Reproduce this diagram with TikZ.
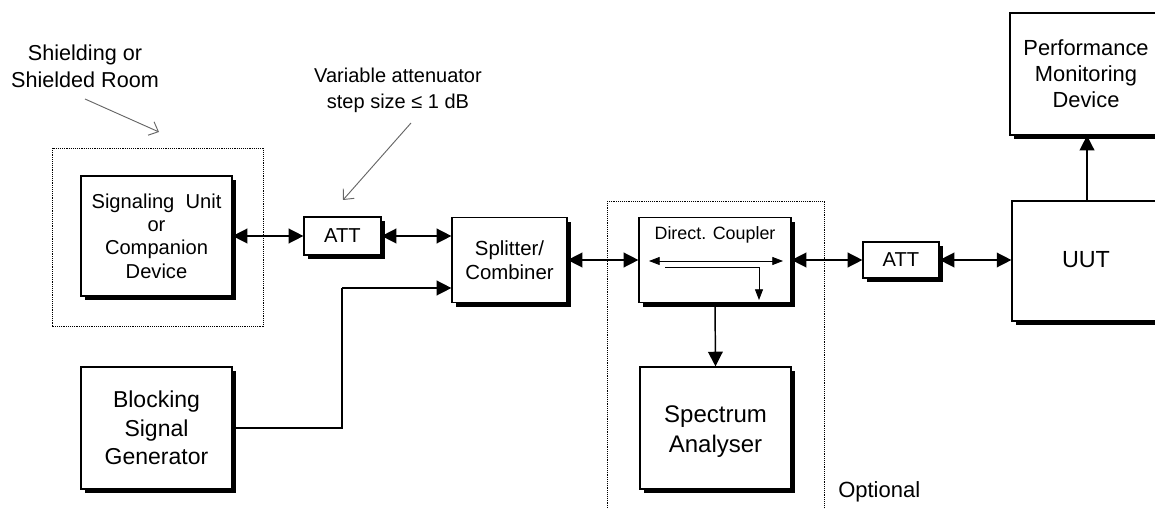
\documentclass[tikz,border=0pt]{standalone}
\usepackage{fontspec}
\setmainfont{Liberation Sans}
\usetikzlibrary{arrows.meta,shadows}
\newcommand{\fpx}[2]{\fontsize{#1}{#2}\selectfont}
\begin{document}
\begin{tikzpicture}[x=0.75pt,y=-0.75pt,
  sz/.style 2 args={minimum width=#1*0.75pt, minimum height=#2*0.75pt},
  box/.style={draw, fill=white, line width=0.9pt, inner sep=0pt, align=center,
    drop shadow={shadow xshift=3.2pt, shadow yshift=-3.2pt, fill=black, opacity=1},
    font=\fpx{15.1}{17.5}},
  bus/.style={line width=1.1pt, {Triangle[length=11pt,width=11pt]}-{Triangle[length=11pt,width=11pt]}},
  one/.style={line width=1.1pt, -{Triangle[length=11pt,width=11pt]}},
  wire/.style={line width=0.9pt},
  thin/.style={line width=0.6pt},
  note/.style={draw=black!60, line width=0.7pt, -{Straight Barb[length=6pt,width=11pt]}},
  encl/.style={line width=0.6pt, dash pattern=on 0.7pt off 0.7pt},
  lbl/.style={align=center, inner sep=0pt, font=\fpx{16.2}{20}}
]
\useasboundingbox (0,0) rectangle (1155,509);

% enclosures
\draw[encl] (52,148) rectangle (263,326);
\draw[encl] (607,201) -- (824,201) -- (824,515) (607,201) -- (607,515);

% boxes
\node[box, sz={151}{120}] (sig) at (156.5,236) {Signaling\ \ Unit\\or\\Companion\\Device};
\node[box, sz={77}{38}] (att1) at (342.5,236) {ATT};
\node[box, sz={115}{85}, font=\fpx{15.3}{18}] (split) at (509.5,260) {Splitter/\\Combiner};
\node[box, sz={152}{85}] (coup) at (715,260) {};
\node[inner sep=0pt, font=\fpx{13.4}{15}] (coupt) at (715,235) {Direct. Coupler};
\node[box, sz={151}{122}] (spec) at (715.5,428) {};
\node[inner sep=0pt, align=center, font=\fpx{18}{22.5}] (spect) at (715.5,432) {Spectrum\\Analyser};
\node[box, sz={76}{36}] (att2) at (901,260) {ATT};
\node[box, sz={152}{120}] (uut) at (1088,261) {};
\node[inner sep=0pt, font=\fpx{17.5}{20}] (uutt) at (1086,260) {UUT};
\node[box, sz={152}{122}] (perf) at (1086,74) {};
\node[inner sep=0pt, align=center, font=\fpx{16.4}{19.5}] (perft) at (1086,74) {Performance\\Monitoring\\Device};
\node[box, sz={151}{122}, font=\fpx{17.25}{21.5}] (blk) at (156.5,428) {Blocking\\Signal\\Generator};

% labels
\node[lbl] (shl) at (85,66) {Shielding or\\Shielded Room};
\node[lbl, font=\fpx{15}{19.5}] (varl) at (398,90) {Variable attenuator\\step size ≤ 1 dB};
\node[inner sep=0pt, anchor=west, font=\fpx{16.5}{20}] (opt) at (838,492) {Optional};

% annotation arrows
\coordinate (a1s) at (85,99);
\coordinate (a1e) at (159,132);
\coordinate (a2s) at (411,123);
\coordinate (a2e) at (343,200);
\draw[note] (a1s) -- (a1e);
\draw[note] (a2s) -- (a2e);

% connectors
\draw[bus] (sig.east) -- (att1.west);
\draw[bus] (att1.east) -- (split.west |- att1.east);
\coordinate (bend) at (342,288);
\draw[wire] (blk.east) -| (bend);
\draw[one] (bend) -- (split.west |- bend);
\draw[bus] (split.east) -- (coup.west);
\draw[bus] (coup.east) -- (att2.west);
\draw[bus] (att2.east) -- (uut.west |- att2.east);
\draw[one] (coup.south) -- (spec.north);
\coordinate (upx) at (1087,0);
\draw[one] (uut.north -| upx) -- (perf.south -| upx);

% coupler internals
\coordinate (c1) at (649,261);
\coordinate (c2) at (783,261);
\coordinate (c3) at (665,267);
\coordinate (c4) at (759,267);
\coordinate (c5) at (759,300);
\draw[thin, {Triangle[length=8pt,width=6pt]}-{Triangle[length=8pt,width=6pt]}] (c1) -- (c2);
\draw[thin, -{Triangle[length=8pt,width=6pt]}] (c3) -- (c4) -- (c5);
\end{tikzpicture}
\end{document}
